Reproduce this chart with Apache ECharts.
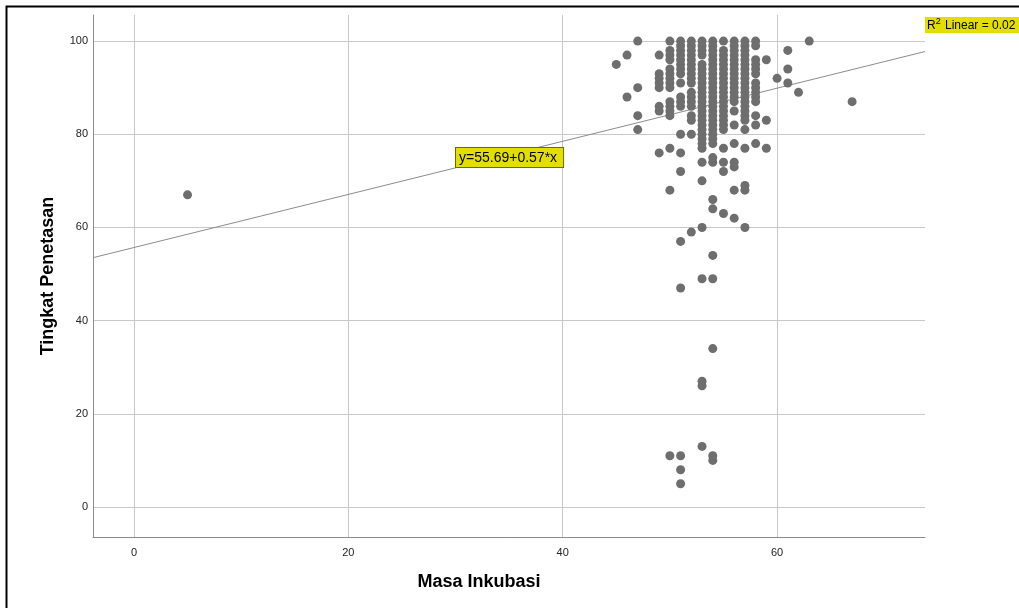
<!DOCTYPE html>
<html>
<head>
<meta charset="utf-8">
<script src="https://cdn.jsdelivr.net/npm/echarts@6/dist/echarts.min.js"></script>
<style>
html,body{margin:0;padding:0;background:#fff;}
#chart{width:1019px;height:608px;}
</style>
</head>
<body>
<div id="chart"></div>
<script>
// ---- data ----
const xTitle = 'Masa Inkubasi';
const yTitle = 'Tingkat Penetasan';
const xTicks = [0, 20, 40, 60];
const yTicks = [0, 20, 40, 60, 80, 100];
const xRange = [-3.82, 73.8];
const yRange = [-6.44, 105.6];
const fitIntercept = 55.69;
const fitSlope = 0.57;
const fitLabel = 'y=55.69+0.57*x';
const r2Label = '0.02';

// points grouped by Masa Inkubasi (x) -> list of Tingkat Penetasan (y)
const colX5 = [67];
const colX45 = [95];
const colX46 = [97, 88];
const colX47 = [100, 90, 84, 81];
const colX49 = [97, 93, 92, 91, 90, 86, 85, 76];
const colX50 = [100, 98, 97, 96, 94, 93, 92, 91, 90, 87, 86, 85, 84, 77, 68, 11];
const colX51 = [100, 99, 98, 97, 96, 95, 94, 93, 91, 88, 87, 86, 80, 76, 72, 57, 47, 11, 8, 5];
const colX52 = [100, 99, 98, 97, 96, 95, 94, 93, 92, 91, 89, 88, 87, 86, 84, 83, 80, 59];
const colX53 = [100, 99, 98, 97, 95, 94, 93, 92, 91, 90, 89, 88, 87, 86, 85, 84, 83, 82, 81, 80, 79, 78, 77, 74, 70, 60, 49, 27, 26, 13];
const colX54 = [100, 99, 98, 97, 96, 95, 94, 93, 92, 91, 90, 89, 88, 87, 86, 85, 84, 83, 82, 81, 80, 79, 78, 75, 74, 66, 64, 54, 49, 34, 11, 10];
const colX55 = [100, 98, 97, 96, 95, 94, 93, 92, 91, 90, 89, 88, 87, 86, 85, 84, 83, 82, 81, 77, 74, 72, 63];
const colX56 = [100, 99, 98, 97, 96, 95, 94, 93, 92, 91, 90, 89, 88, 87, 85, 82, 78, 74, 73, 68, 62];
const colX57 = [100, 99, 98, 97, 96, 95, 94, 93, 92, 91, 90, 89, 88, 87, 86, 85, 84, 83, 81, 77, 69, 68, 60];
const colX58 = [100, 99, 96, 95, 94, 93, 91, 90, 89, 88, 87, 84, 82, 78];
const colX59 = [96, 83, 77];
const colX60 = [92];
const colX61 = [98, 94, 91];
const colX62 = [89];
const colX63 = [100];
const colX67 = [87];

const columns = [
  [5, colX5], [45, colX45], [46, colX46], [47, colX47], [49, colX49], [50, colX50],
  [51, colX51], [52, colX52], [53, colX53], [54, colX54], [55, colX55], [56, colX56],
  [57, colX57], [58, colX58], [59, colX59], [60, colX60], [61, colX61], [62, colX62],
  [63, colX63], [67, colX67]
];

const points = [];
columns.forEach(([x, ys]) => ys.forEach(y => points.push([x, y])));
const fitLine = xRange.map(x => [x, fitIntercept + fitSlope * x]);

const FONT = '"Liberation Sans", Arial, sans-serif';
const chart = echarts.init(document.getElementById('chart'), null, {renderer: 'canvas'});

chart.setOption({
  animation: false,
  backgroundColor: '#ffffff',
  grid: {left: 93, right: 94, top: 15, bottom: 71, containLabel: false},
  xAxis: {
    type: 'value', min: xRange[0], max: xRange[1],
    name: xTitle, nameLocation: 'middle', nameGap: 36,
    nameTextStyle: {fontFamily: FONT, fontSize: 18, fontWeight: 'bold', color: '#000', padding: [0, 60, 0, 0]},
    axisLine: {show: true, onZero: false, lineStyle: {color: '#8a8a8a', width: 1}},
    axisTick: {show: false, customValues: xTicks},
    axisLabel: {customValues: xTicks, margin: 10, fontFamily: FONT, fontSize: 11, color: '#222'},
    splitLine: {show: true, lineStyle: {color: '#c8c8c8', width: 1}}
  },
  yAxis: {
    type: 'value', min: yRange[0], max: yRange[1],
    name: yTitle, nameLocation: 'middle', nameGap: 36, nameRotate: 90,
    nameTextStyle: {fontFamily: FONT, fontSize: 18, fontWeight: 'bold', color: '#000'},
    axisLine: {show: true, onZero: false, lineStyle: {color: '#8a8a8a', width: 1}},
    axisTick: {show: false, customValues: yTicks},
    axisLabel: {customValues: yTicks, margin: 5, fontFamily: FONT, fontSize: 11, color: '#222'},
    splitLine: {show: true, lineStyle: {color: '#c8c8c8', width: 1}}
  },
  series: [
    {
      type: 'line', data: fitLine, showSymbol: false, silent: true, z: 1,
      lineStyle: {color: '#8c8c8c', width: 1}
    },
    {
      type: 'scatter', data: points, symbol: 'circle', symbolSize: 9, z: 2,
      itemStyle: {color: '#6e6e6e', opacity: 1}
    }
  ],
  graphic: [
    {
      type: 'rect', left: 4, top: 4, z: 10, silent: true,
      shape: {width: 1040, height: 640},
      style: {fill: 'none', stroke: '#000', lineWidth: 2}
    },
    {
      type: 'text', left: 455, top: 147, z: 20,
      style: {
        text: fitLabel, fontFamily: FONT, fontSize: 14, fill: '#000',
        backgroundColor: '#e2df00', borderColor: '#6b6b00', borderWidth: 1,
        padding: [3, 6, 2, 3]
      }
    },
    {
      type: 'text', left: 925, top: 17, z: 20,
      style: {
        rich: {
          a: {fontFamily: FONT, fontSize: 12, fill: '#000', padding: [3, 0, 1, 0]},
          s: {fontFamily: FONT, fontSize: 9, fill: '#000', verticalAlign: 'top', padding: [0, 1, 6, 0]}
        },
        text: '{a|R}{s|2}{a| Linear = ' + r2Label + '}',
        backgroundColor: '#e2df00', padding: [0, 10, 0, 2]
      }
    }
  ]
});
</script>
</body>
</html>
